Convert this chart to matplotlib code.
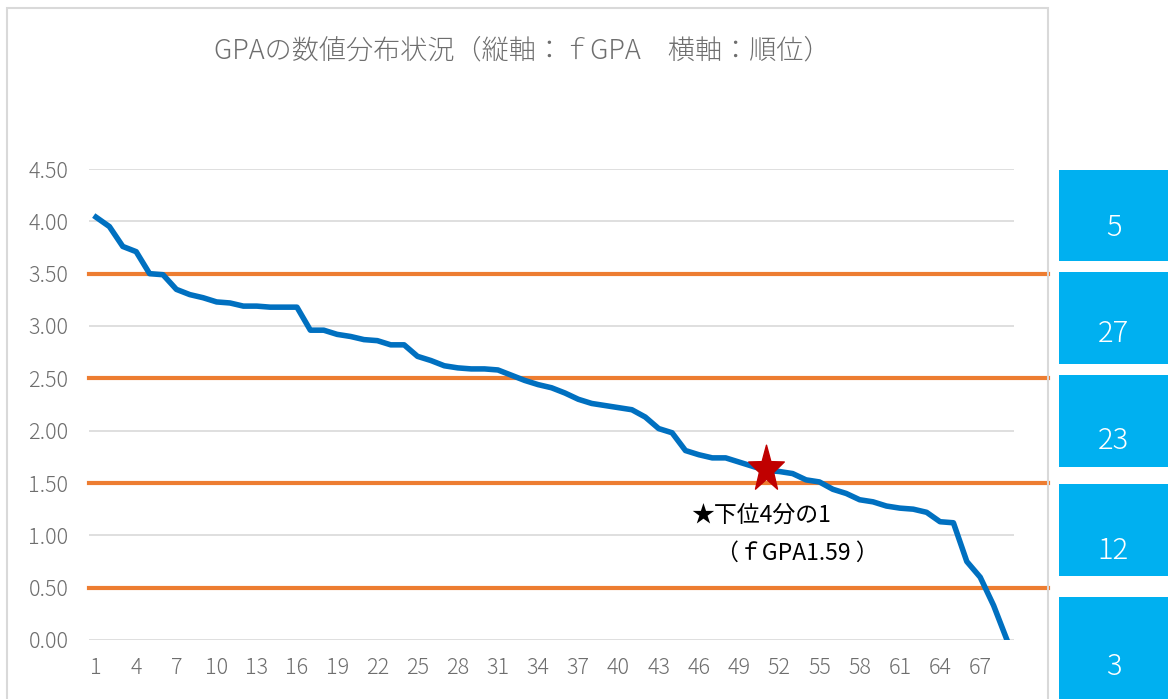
import numpy as np
import matplotlib
matplotlib.use("Agg")
import matplotlib.pyplot as plt
from matplotlib.patches import Rectangle
from matplotlib.path import Path

plt.rcParams['font.family'] = ['Noto Sans CJK JP', 'DejaVu Sans']

# fGPA sorted by rank
gpa = [4.04, 3.95, 3.76, 3.71, 3.50, 3.49, 3.35, 3.30, 3.27, 3.23,
       3.22, 3.19, 3.19, 3.18, 3.18, 3.18, 2.96, 2.96, 2.92, 2.90,
       2.87, 2.86, 2.82, 2.82, 2.71, 2.67, 2.62, 2.60, 2.59, 2.59,
       2.58, 2.53, 2.48, 2.44, 2.41, 2.36, 2.30, 2.26, 2.24, 2.22,
       2.20, 2.13, 2.02, 1.98, 1.81, 1.77, 1.74, 1.74, 1.70, 1.66,
       1.62, 1.61, 1.59, 1.53, 1.51, 1.44, 1.40, 1.34, 1.32, 1.28,
       1.26, 1.25, 1.22, 1.13, 1.12, 0.75, 0.60, 0.33, 0.00]
rank = list(range(1, len(gpa) + 1))

bands = [3.5, 2.5, 1.5, 0.5]
band_counts = [5, 27, 23, 12, 3]

star_rank = 51
star_gpa = 1.63

xtick_pos = list(range(1, 68, 3))
yticks = [0, 0.5, 1.0, 1.5, 2.0, 2.5, 3.0, 3.5, 4.0, 4.5]

title = "GPAの数値分布状況（縦軸：ｆGPA　横軸：順位）"
note1 = "★下位4分の1"
note2 = "（ｆGPA1.59 ）"

W, H = 1171, 699
fig = plt.figure(figsize=(W / 100, H / 100), dpi=100)
ax = fig.add_axes([89.3 / W, (H - 640) / H, 924.4 / W, 471 / H])

# outer chart frame
fig.patches.append(Rectangle((7 / W, -0.05), (1048 - 7) / W, (H - 8) / H + 0.05,
                             transform=fig.transFigure, fill=False,
                             edgecolor='#D9D9D9', lw=1.5))

ax.plot(rank, gpa, color='#0070C0', lw=4.0, solid_joinstyle='round', zorder=3)

for b in bands:
    ax.axhline(b, xmin=0, xmax=(1048 - 89.3) / 924.4, color='#ED7D31', lw=3.0,
               clip_on=False, zorder=2)

# star marker (a bit taller than wide)
st = Path.unit_regular_star(5, 0.4)
star = Path(st.vertices * [1, 1.3], st.codes)
ax.plot([star_rank], [star_gpa], marker=star, markersize=35, color='#C00000',
        linestyle='none', zorder=5)

ax.text(45.4, 1.19, note1, fontsize=16.5, color='black', va='center', ha='left')
ax.text(47.3, 0.83, note2, fontsize=16.5, color='black', va='center', ha='left')

ax.set_xlim(0.5, len(gpa) + 0.5)
ax.set_ylim(0, 4.5)
ax.set_yticks(yticks)
ax.set_yticklabels(['%.2f' % v for v in yticks])
ax.set_xticks(xtick_pos)
ax.set_xticklabels([str(v) for v in xtick_pos])
ax.grid(axis='y', color='#D9D9D9', lw=1.2)
ax.set_axisbelow(True)
ax.tick_params(length=0, labelsize=15.5, labelcolor='#6E6E6E')
for lab in ax.get_xticklabels() + ax.get_yticklabels():
    lab.set_fontweight('light')
ax.tick_params(axis='y', pad=15)
ax.tick_params(axis='x', pad=12)
for s in ax.spines.values():
    s.set_visible(False)

fig.text(522 / W, 1 - 50 / H, title, fontsize=19.5, color='#6E6E6E',
         fontweight='light', ha='center', va='center')

# count boxes on the right
box_tops = [170, 272, 375, 484, 597]
box_h = [91, 92, 92, 92, 110]
label_y = [228, 334, 441, 551, 667]
for top, h, ly, n in zip(box_tops, box_h, label_y, band_counts):
    fig.patches.append(Rectangle((1059 / W, 1 - (top + h) / H), 109 / W, h / H,
                                 transform=fig.transFigure, facecolor='#00B0F0',
                                 edgecolor='none'))
    fig.text(1113.5 / W, 1 - ly / H, str(n), fontsize=21, color='white',
             fontweight='light', ha='center', va='center')

fig.savefig('out.png', dpi=100)
